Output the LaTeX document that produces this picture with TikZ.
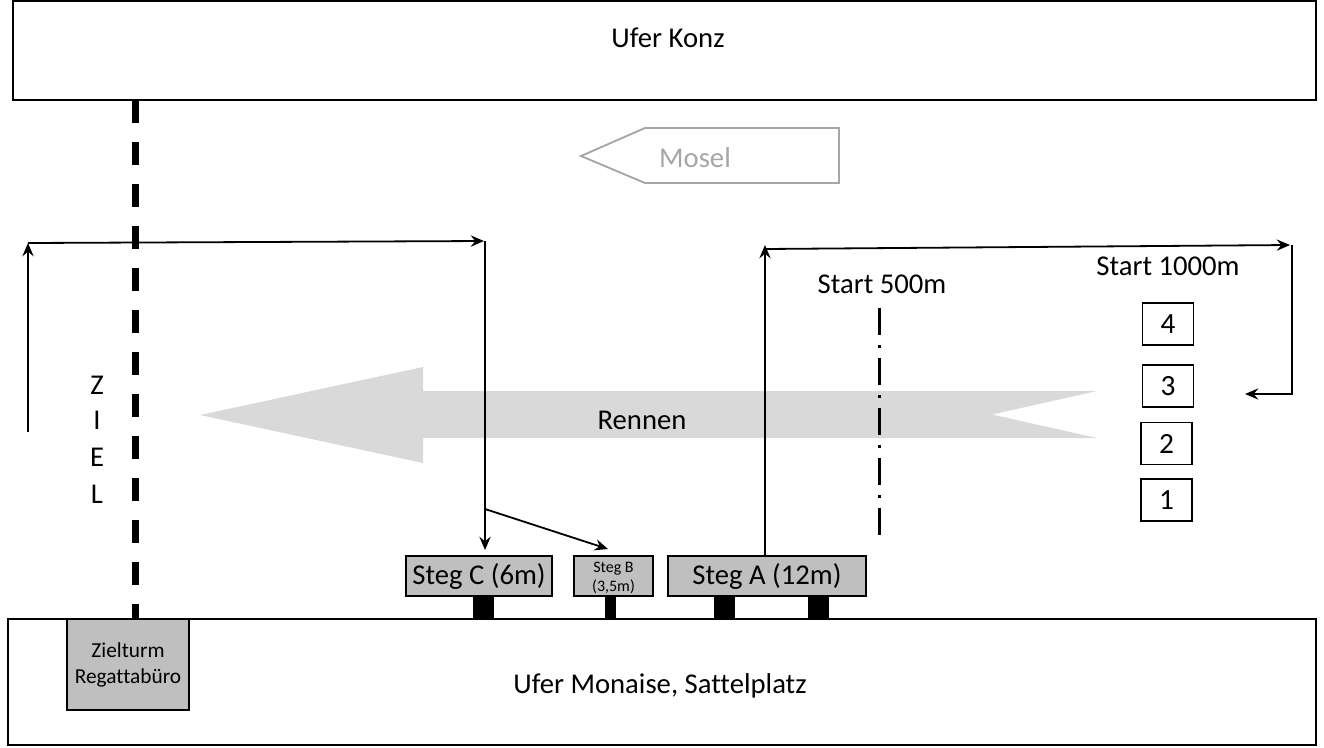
\documentclass[tikz,border=0pt]{standalone}
\usepackage{fontspec}
\setmainfont{Carlito}[Ligatures=NoCommon]
\usetikzlibrary{arrows.meta,calc}
\definecolor{boxgray}{HTML}{BFBFBF}
\definecolor{racegray}{HTML}{D9D9D9}
\definecolor{moselgray}{HTML}{A6A6A6}
\tikzset{
  bigtext/.style={font=\fontsize{21.5}{25}\selectfont, inner sep=0pt},
  shore/.style={draw=black, line width=1.5pt, rectangle, inner sep=0pt},
  stegbox/.style={draw=black, fill=boxgray, line width=1.5pt, rectangle, inner sep=0pt, font=\fontsize{21.5}{25}\selectfont},
  post/.style={fill=black, draw=none},
  numbox/.style={draw=black, line width=1.3pt, rectangle, inner sep=0pt, minimum width=38.25pt, minimum height=31.5pt, font=\fontsize{22}{25}\selectfont},
  conn/.style={line width=1.35pt, -{Stealth[length=10pt,width=8.5pt,inset=3.5pt]}},
  plain/.style={line width=1.35pt},
}
\begin{document}
\begin{tikzpicture}[x=0.75pt,y=-0.75pt]
\useasboundingbox (0,0) rectangle (1324,747);
% shores
\node[shore, minimum width=977.25pt, minimum height=74.25pt] (konz) at (664.5,50.5) {};
\node[bigtext] (konztext) at (668,38) {Ufer Konz};
\node[shore, minimum width=981pt, minimum height=94.5pt] (monaise) at (662,682) {};
\node[bigtext] (monaisetext) at (660,686) {Ufer Monaise, Sattelplatz};
% Mosel arrow
\draw[moselgray, line width=1.4pt] (581,156) -- (645,128) -- (839,128) -- (839,183) -- (645,183) -- cycle;
\node[bigtext, text=moselgray] (mosel) at (695,158) {Mosel};
% race arrow
\fill[racegray] (200,415) -- (423,367) -- (423,391) -- (1097,391) -- (992,414.5) -- (1097,438) -- (423,438) -- (423,463) -- cycle;
% finish line
\draw[line width=5.25pt, dash pattern=on 17.25pt off 14.25pt] (135,100) -- (135,619);
\node[bigtext] (z) at (97,385) {Z};
\node[bigtext] (i) at (97,420) {I};
\node[bigtext] (e) at (97,457) {E};
\node[bigtext] (l) at (97,494) {L};
\node[bigtext] (rennen) at (642,420) {Rennen};
% start 500 line
\draw[line width=2.25pt, dash pattern=on 20.25pt off 7.5pt on 2.25pt off 7.5pt] (879,308) -- (879,535);
\node[bigtext] (s500) at (882,284) {Start 500m};
\node[bigtext] (s1000) at (1168,266) {Start 1000m};
% lane boxes
\node[numbox] (n4) at (1168,324) {4};
\node[numbox] (n3) at (1168,386) {3};
\node[numbox] (n2) at (1166.5,443.5) {2};
\node[numbox] (n1) at (1166.5,500) {1};
% finish tower
\node[stegbox, minimum width=91.5pt, minimum height=68.25pt, align=center, font=\fontsize{16}{19.5}\selectfont] (turm) at (128,664.5) {Zielturm\\Regattabüro};
% posts
\fill[post] (473,596) rectangle (494,619);
\fill[post] (605,596) rectangle (616,619);
\fill[post] (714,596) rectangle (735,619);
\fill[post] (808,596) rectangle (829,619);
% jetties
\node[stegbox, minimum width=109.5pt, minimum height=30pt] (stegC) at (479,576) {Steg C (6m)};
\node[stegbox, minimum width=59.25pt, minimum height=30pt] (stegB) at (613.5,576) {};
\node[font=\fontsize{12}{14.25}\selectfont, align=center, inner sep=0pt] (stegBtext) at (613.5,578) {Steg B\\(3,5m)};
\node[stegbox, minimum width=148.5pt, minimum height=30pt] (stegA) at (767,576) {Steg A (12m)};
% connectors left
\coordinate (a1) at (28,432);
\coordinate (a2) at (28,243);
\coordinate (a3) at (484,241);
\coordinate (a4) at (485,241);
\coordinate (a5) at (485,550);
\coordinate (a6) at (485,509);
\coordinate (b1) at (608,549);
\draw[conn] (a1) -- (a2);
\draw[conn] (a2) -- (a3);
\draw[conn] (a4) -- (a5);
\draw[conn] (a6) -- (b1);
% connectors right
\coordinate (r1) at (765,556);
\coordinate (r2) at (765,245);
\coordinate (r3) at (765,249);
\coordinate (r4) at (1290,245);
\coordinate (r5) at (1292,245);
\coordinate (r6) at (1292,394);
\coordinate (r7) at (1245,394);
\draw[conn] (r1) -- (r2);
\draw[conn] (r3) -- (r4);
\draw[conn] (r5) -- (r6) -- (r7);
\end{tikzpicture}
\end{document}
